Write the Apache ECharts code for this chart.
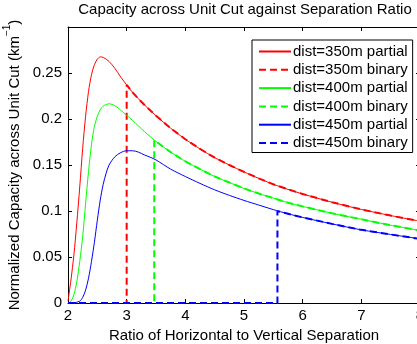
<!DOCTYPE html>
<html>
<head>
<meta charset="utf-8">
<script src="https://cdn.jsdelivr.net/npm/echarts@6/dist/echarts.min.js"></script>
<style>html,body{margin:0;padding:0;background:#fff;}#c{width:417px;height:344px;}</style>
</head>
<body>
<div id="c"></div>
<script>
var titleText = 'Capacity across Unit Cut against Separation Ratio';
var xName = 'Ratio of Horizontal to Vertical Separation';
var xTicks = [2, 3, 4, 5, 6, 7, 8];
var yTicks = [0, 0.05, 0.1, 0.15, 0.2, 0.25, 0.3];

var names = ['dist=350m partial', 'dist=350m binary', 'dist=400m partial', 'dist=400m binary', 'dist=450m partial', 'dist=450m binary'];

var xRed = [2.00, 2.05, 2.10, 2.15, 2.20, 2.25, 2.30, 2.35, 2.40, 2.45, 2.50, 2.55, 2.60, 2.70, 2.80, 2.90, 3.00, 3.10, 3.20, 3.30, 3.40, 3.50, 3.75, 4.00, 4.25, 4.50, 4.75, 5.00, 5.25, 5.50, 5.75, 6.00, 6.50, 7.00, 7.50, 8.00];
var red350 = [0.002, 0.025, 0.052, 0.087, 0.126, 0.168, 0.203, 0.230, 0.248, 0.259, 0.265, 0.2675, 0.267, 0.2625, 0.255, 0.2455, 0.237, 0.229, 0.222, 0.2155, 0.2095, 0.2035, 0.190, 0.178, 0.1675, 0.158, 0.150, 0.1425, 0.1355, 0.129, 0.1235, 0.1185, 0.1095, 0.1017, 0.095, 0.089];

var xGreen = [2.00, 2.05, 2.10, 2.15, 2.20, 2.25, 2.30, 2.35, 2.40, 2.45, 2.50, 2.55, 2.60, 2.70, 2.80, 2.90, 3.00, 3.10, 3.20, 3.30, 3.40, 3.50, 3.75, 4.00, 4.25, 4.50, 4.75, 5.00, 5.25, 5.50, 5.75, 6.00, 6.50, 7.00, 7.50, 8.00];
var green400 = [0.000, 0.002, 0.009, 0.023, 0.045, 0.072, 0.108, 0.143, 0.172, 0.192, 0.203, 0.210, 0.214, 0.2165, 0.2145, 0.2095, 0.204, 0.1985, 0.1925, 0.1865, 0.181, 0.1755, 0.164, 0.154, 0.1455, 0.1375, 0.131, 0.1245, 0.119, 0.114, 0.109, 0.105, 0.0975, 0.091, 0.0845, 0.0788];

var xBlue = [2.00, 2.10, 2.20, 2.25, 2.30, 2.35, 2.40, 2.45, 2.50, 2.55, 2.60, 2.65, 2.70, 2.80, 2.90, 3.00, 3.10, 3.20, 3.30, 3.40, 3.50, 3.75, 4.00, 4.25, 4.50, 4.75, 5.00, 5.25, 5.50, 5.75, 6.00, 6.50, 7.00, 7.50, 8.00];
var blue450 = [0.000, 0.0002, 0.002, 0.006, 0.014, 0.027, 0.045, 0.066, 0.090, 0.112, 0.129, 0.141, 0.150, 0.159, 0.1635, 0.1655, 0.1655, 0.164, 0.161, 0.1585, 0.1555, 0.1455, 0.1375, 0.130, 0.123, 0.117, 0.1115, 0.1065, 0.1015, 0.097, 0.093, 0.086, 0.0795, 0.0745, 0.0697];

// binary thresholds (x where the binary curve jumps) and value at the jump
var thrX = [3.00, 3.47, 5.57];
var thrY = [0.237, 0.177, 0.0998];

var colors = ['#ff0000', '#00ff00', '#0000ff'];

function zip(xs, ys) { return xs.map(function (x, i) { return [x, ys[i]]; }); }
function binary(xs, ys, tx, ty) {
  var out = [[xs[0], 0], [tx, 0], [tx, ty]];
  for (var i = 0; i < xs.length; i++) if (xs[i] > tx) out.push([xs[i], ys[i]]);
  return out;
}

var partials = [zip(xRed, red350), zip(xGreen, green400), zip(xBlue, blue450)];
var binaries = [binary(xRed, red350, thrX[0], thrY[0]), binary(xGreen, green400, thrX[1], thrY[1]), binary(xBlue, blue450, thrX[2], thrY[2])];

var FONT = 'Liberation Sans, Arial, Helvetica, sans-serif';
var series = [];
for (var k = 0; k < 3; k++) {
  series.push({
    name: names[2 * k], type: 'line', data: partials[k], symbol: 'none', smooth: 0.3,
    lineStyle: { color: colors[k], width: 1 }, itemStyle: { color: colors[k] }, z: 2 + 2 * k, animation: false
  });
  series.push({
    name: names[2 * k + 1], type: 'line', data: binaries[k], symbol: 'none', smooth: false,
    lineStyle: { color: colors[k], width: 2, type: [7, 4] }, itemStyle: { color: colors[k] }, z: 3 + 2 * k, animation: false
  });
}

var chart = echarts.init(document.getElementById('c'), null, { renderer: 'canvas' });
var axisLine = { show: true, onZero: false, lineStyle: { color: '#000', width: 1 } };
var tick = { show: true, inside: true, length: 4, lineStyle: { color: '#000' } };
chart.setOption({
  backgroundColor: '#fff',
  animation: false,
  title: {
    text: titleText, left: 245, top: 2, textAlign: 'center', padding: 0,
    textStyle: { fontFamily: FONT, fontSize: 15, fontWeight: 'normal', color: '#000' }
  },
  grid: { left: 68, right: -3, top: 27, bottom: 41, containLabel: false, outerBoundsMode: 'none' },
  legend: {
    orient: 'vertical', left: 252, top: 40, data: names,
    itemWidth: 32, itemHeight: 14, itemGap: 3.3,
    padding: [4, 5, 2, 6], borderColor: '#000', borderWidth: 1, backgroundColor: '#fff',
    itemStyle: { opacity: 0 },
    textStyle: { fontFamily: FONT, fontSize: 15, color: '#000', padding: [0, 0, 0, -3] },
    selectedMode: false
  },
  xAxis: [{
    type: 'value', min: 2, max: 8, interval: 1, position: 'bottom',
    name: xName, nameLocation: 'middle', nameGap: 22,
    nameTextStyle: { fontFamily: FONT, fontSize: 15, color: '#000' },
    axisLine: axisLine, axisTick: tick, splitLine: { show: false },
    axisLabel: { fontFamily: FONT, fontSize: 15, color: '#000', margin: 5, showMaxLabel: true, hideOverlap: false }
  }, {
    type: 'value', min: 2, max: 8, interval: 1, position: 'top',
    axisLine: axisLine, axisTick: tick, splitLine: { show: false }, axisLabel: { show: false }
  }],
  yAxis: [{
    type: 'value', min: 0, max: 0.3, interval: 0.05, position: 'left',
    name: '{a|Normalized Capacity across Unit Cut (km}{s|\u22121}{a|)}', nameLocation: 'middle', nameGap: 34,
    nameTextStyle: {
      fontFamily: FONT, fontSize: 15, color: '#000',
      rich: {
        a: { fontFamily: FONT, fontSize: 15, color: '#000', lineHeight: 20, verticalAlign: 'bottom' },
        s: { fontFamily: FONT, fontSize: 10, color: '#000', lineHeight: 20, verticalAlign: 'top' }
      }
    },
    axisLine: axisLine, axisTick: tick, splitLine: { show: false },
    axisLabel: { fontFamily: FONT, fontSize: 15, color: '#000', margin: 6, showMaxLabel: false }
  }, {
    type: 'value', min: 0, max: 0.3, interval: 0.05, position: 'right',
    axisLine: axisLine, axisTick: tick, splitLine: { show: false }, axisLabel: { show: false }
  }],
  series: series
});
</script>
</body>
</html>
